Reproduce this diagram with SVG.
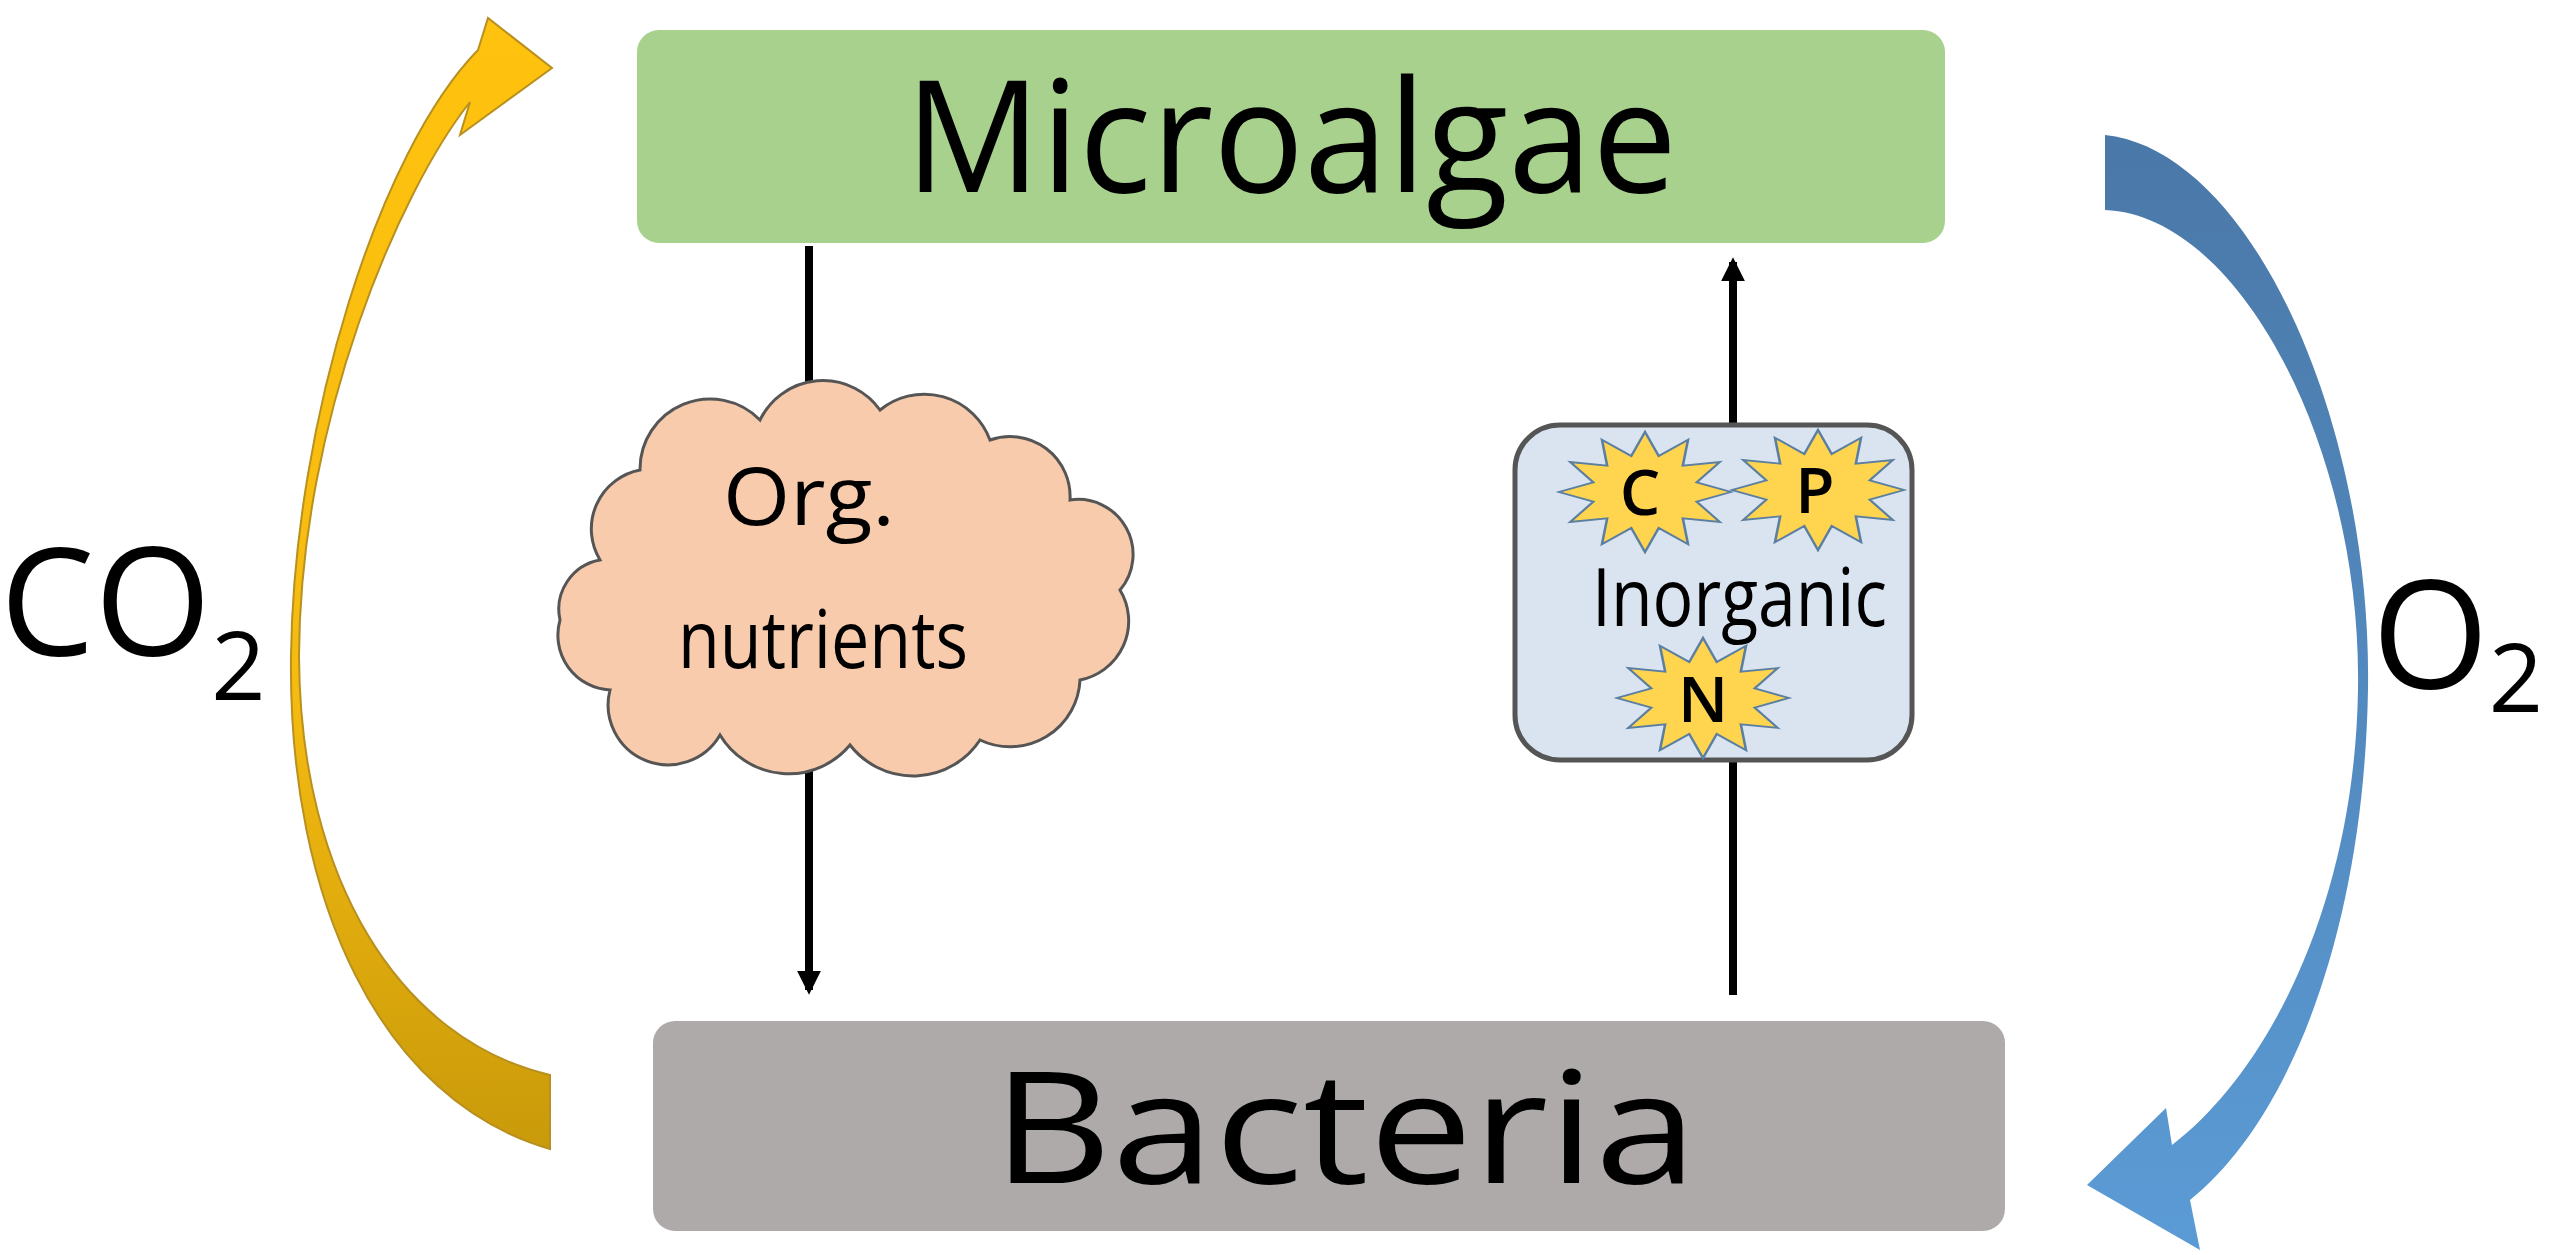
<svg xmlns="http://www.w3.org/2000/svg" width="2560" height="1255" viewBox="0 0 2560 1255">
<style>
text{font-family:"Open Sans","Noto Sans","Liberation Sans",sans-serif;fill:#000}
.big{font-size:155px}
.conn{stroke:#000;stroke-width:8;fill:none}
.star{fill:#ffd44f;stroke:#5a7fa0;stroke-width:3}
</style>
<defs>
<marker id="ah" viewBox="0 0 10 10" refX="8" refY="5" markerWidth="3" markerHeight="3" orient="auto"><path d="M0,0 L10,5 L0,10 Z" fill="#000"/></marker>
<linearGradient id="yg" x1="0" y1="0" x2="0" y2="1"><stop offset="0" stop-color="#ffc20e"/><stop offset="0.6" stop-color="#f5bb10"/><stop offset="1" stop-color="#c99a0a"/></linearGradient>
<linearGradient id="bg" x1="0" y1="0" x2="0" y2="1"><stop offset="0" stop-color="#4a78a8"/><stop offset="1" stop-color="#5b9bd5"/></linearGradient>
<polygon id="st" points="100,0 60,16 87,50 44,44 50,87 16,60 0,100 -16,60 -50,87 -44,44 -87,50 -60,16 -100,0 -60,-16 -87,-50 -44,-44 -50,-87 -16,-60 0,-100 16,-60 50,-87 44,-44 87,-50 60,-16"/>
</defs>
<rect width="2560" height="1255" fill="#fff"/>
<g id="connectors">
<path d="M550,1149 C380,1100 288,900 291,656 C294,420 380,150 478,50 L488,18 L552,68 L460,135 L470,102 C400,190 300,420 299,656 C300,880 400,1040 550,1075 Z" fill="url(#yg)" stroke="#b89020" stroke-width="2"/>
<path d="M2105,135 C2250,150 2372,420 2368,689 C2364,930 2290,1120 2190,1200 L2200,1250 L2087,1185 L2166,1108 L2172,1145 C2270,1070 2355,900 2358,689 C2362,450 2240,215 2105,210 Z" fill="url(#bg)"/>
<line class="conn" x1="809" y1="246" x2="809" y2="990" marker-end="url(#ah)"/>
<line class="conn" x1="1733" y1="995" x2="1733" y2="262" marker-end="url(#ah)"/>
</g>
<g id="microalgae">
<rect x="637" y="30" width="1308" height="213" rx="22" fill="#a9d18e"/>
<text class="big" x="1291" y="192" text-anchor="middle" textLength="772" lengthAdjust="spacingAndGlyphs">Microalgae</text>
</g>
<g id="bacteria">
<rect x="653" y="1021" width="1352" height="210" rx="22" fill="#aeaaaa"/>
<text class="big" x="1345" y="1183" text-anchor="middle" textLength="705" lengthAdjust="spacingAndGlyphs">Bacteria</text>
</g>
<g id="cloud">
<path d="M600,560 A60,60 0 0 1 640,470 A70,70 0 0 1 760,420 A70,70 0 0 1 880,410 A70,70 0 0 1 990,440 A60,60 0 0 1 1070,500 A55,55 0 0 1 1120,590 A60,60 0 0 1 1080,680 A70,70 0 0 1 980,740 A80,80 0 0 1 850,745 A80,80 0 0 1 720,735 A60,60 0 0 1 610,690 A55,55 0 0 1 560,620 A50,50 0 0 1 600,560 Z" fill="#f8cbad" stroke="#555" stroke-width="3"/>
<text x="809" y="525" font-size="80" text-anchor="middle" textLength="172" lengthAdjust="spacingAndGlyphs">Org.</text>
<text x="823" y="668" font-size="80" text-anchor="middle" textLength="290" lengthAdjust="spacingAndGlyphs">nutrients</text>
</g>
<g id="inorganic">
<rect x="1515" y="425" width="397" height="335" rx="45" fill="#dae3f0" stroke="#555" stroke-width="5"/>
<use href="#st" class="star" transform="translate(1645,492) scale(0.86,0.6)"/>
<use href="#st" class="star" transform="translate(1818,490) scale(0.86,0.6)"/>
<use href="#st" class="star" transform="translate(1703,698) scale(0.86,0.6)"/>
<text x="1640" y="515" font-size="64" font-weight="600" text-anchor="middle">C</text>
<text x="1815" y="513" font-size="64" font-weight="600" text-anchor="middle">P</text>
<text x="1703" y="722" font-size="64" font-weight="600" text-anchor="middle">N</text>
<text x="1592" y="626" font-size="80" textLength="295" lengthAdjust="spacingAndGlyphs">Inorganic</text>
</g>
<g id="labels">
<text x="0" y="656" font-size="150">CO<tspan font-size="95" dy="44">2</tspan></text>
<text x="2372" y="689" font-size="150">O<tspan font-size="95" dy="23">2</tspan></text>
</g>
</svg>
